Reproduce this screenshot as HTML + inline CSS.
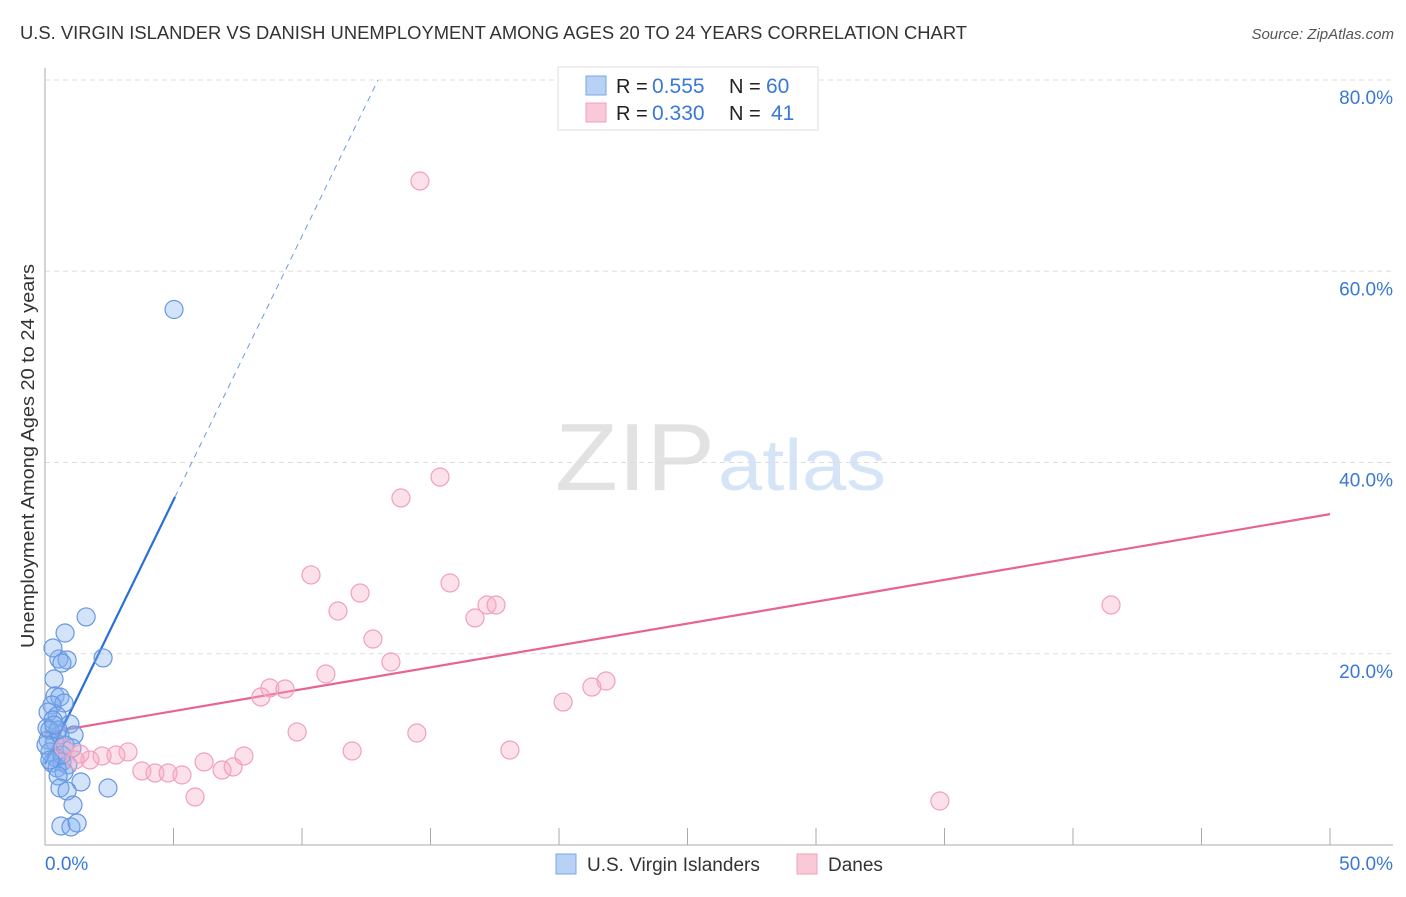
<!DOCTYPE html>
<html><head><meta charset="utf-8"><style>
body{margin:0;background:#fff;font-family:"Liberation Sans",sans-serif;}
svg text{font-family:"Liberation Sans",sans-serif;}
</style></head><body>
<svg id="chart" width="1406" height="892" xmlns="http://www.w3.org/2000/svg">
<text x="20" y="39" font-size="18" fill="#333" textLength="947" lengthAdjust="spacingAndGlyphs">U.S. VIRGIN ISLANDER VS DANISH UNEMPLOYMENT AMONG AGES 20 TO 24 YEARS CORRELATION CHART</text>
<text x="1394" y="39" font-size="15" fill="#555" font-style="italic" text-anchor="end">Source: ZipAtlas.com</text>
<text x="555" y="490" font-size="96" fill="#e2e2e2" textLength="160" lengthAdjust="spacingAndGlyphs" font-family="Liberation Serif">ZIP</text>
<text x="718" y="490" font-size="72" fill="#d6e4f7" textLength="168" lengthAdjust="spacingAndGlyphs">atlas</text>
<g id="grid"></g><g id="axes"></g><g id="lines"></g><g id="pts"></g>
<text transform="translate(34,456) rotate(-90)" font-size="18" fill="#333" text-anchor="middle" textLength="384" lengthAdjust="spacingAndGlyphs">Unemployment Among Ages 20 to 24 years</text>
<g>
<rect x="558" y="67" width="260" height="63" fill="#fff" stroke="#ddd"/>
<rect x="586" y="76" width="20" height="19" fill="#b8d2f6" stroke="#7aa7e6"/>
<rect x="586" y="103" width="20" height="19" fill="#fac9d8" stroke="#f0a0bc"/>
<text x="616" y="93" font-size="20" fill="#222">R =</text>
<text x="652" y="93" font-size="21" fill="#3a78d6">0.555</text>
<text x="729" y="93" font-size="20" fill="#222">N =</text>
<text x="766" y="93" font-size="21" fill="#3a78d6">60</text>
<text x="616" y="120" font-size="20" fill="#222">R =</text>
<text x="652" y="120" font-size="21" fill="#3a78d6">0.330</text>
<text x="729" y="120" font-size="20" fill="#222">N =</text>
<text x="771" y="120" font-size="21" fill="#3a78d6">41</text>
</g>
<g>
<rect x="556" y="854" width="20" height="20" fill="#b8d2f6" stroke="#7aa7e6"/>
<text x="587" y="871" font-size="19" fill="#333">U.S. Virgin Islanders</text>
<rect x="797" y="854" width="20" height="20" fill="#fac9d8" stroke="#f0a0bc"/>
<text x="828" y="871" font-size="19" fill="#333">Danes</text>
</g>
</svg>
<script>
const blueX=[5.02,1.60,0.78,2.26,0.54,0.86,0.31,0.66,0.35,0.39,0.58,0.74,0.27,0.12,0.47,0.31,0.97,0.08,0.58,1.13,0.12,0.39,0.78,1.05,0.19,0.43,0.66,0.89,0.27,0.47,0.74,0.51,1.40,0.58,0.86,2.45,1.09,0.62,1.01,1.25,0.19,0.51,0.04,0.66,0.35,0.19];
const blueY=[56.0,23.85,22.17,19.56,19.45,19.35,20.6,19.03,17.36,15.58,15.48,14.85,14.64,13.9,13.5,13.07,12.65,12.24,11.5,11.5,10.98,10.77,10.46,10.14,9.73,9.1,8.68,8.37,8.58,8.05,7.63,7.22,6.59,5.96,5.65,5.96,4.18,1.99,1.88,2.3,12.03,12.03,10.46,9.41,12.55,8.89];
const pinkX=[14.59,15.37,13.85,10.35,15.76,12.26,17.2,17.55,11.4,16.73,12.76,13.46,10.93,21.83,8.75,9.34,21.28,8.4,20.16,9.81,14.47,11.95,18.09,41.48,34.82,3.23,2.76,2.22,1.75,0.74,1.36,3.77,4.28,4.79,5.33,6.19,6.89,7.32,7.74,5.84,1.17];
const pinkY=[69.44,38.48,36.29,28.24,27.4,26.35,25.1,25.1,24.47,23.74,21.54,19.14,17.88,17.15,16.42,16.31,16.52,15.48,14.95,11.82,11.71,9.83,9.93,25.1,4.6,9.73,9.41,9.31,8.89,10.14,9.52,7.74,7.53,7.53,7.32,8.68,7.84,8.16,9.31,5.02,8.89];
const yTicks=[20,40,60,80];
const yTickLabels=["20.0%","40.0%","60.0%","80.0%"];
const blueTrend=[8.47,5.52]; const blueSolidEnd=5.06;
const pinkTrend=[11.71,34.6];
const NS="http://www.w3.org/2000/svg";
const X=v=>45+v/50*1285, Y=v=>845-v/20*191.25;
function mk(t,a,p){const e=document.createElementNS(NS,t);for(const k in a)e.setAttribute(k,a[k]);document.getElementById(p).appendChild(e);return e;}
yTicks.forEach((t,i)=>{
 const g=mk('line',{x1:45,x2:1393,y1:Y(t),y2:Y(t),stroke:'#ddd','stroke-dasharray':'5,4'},'grid');
 
 
 const l=mk('text',{x:1393,y:Y(t)+24,'font-size':19,fill:'#3a78d6','text-anchor':'end'},'grid');l.textContent=yTickLabels[i];
 
 
});
const ax=mk('line',{x1:45,x2:45,y1:68,y2:845,stroke:'#aaa'},'axes');


const bx=mk('line',{x1:45,x2:1393,y1:845,y2:845,stroke:'#aaa'},'axes');


for(let v=5;v<=50;v+=5){const t=mk('line',{x1:X(v),x2:X(v),y1:828,y2:845,stroke:'#aaa'},'axes');
 
 }
const x0=mk('text',{x:45,y:870,'font-size':19,fill:'#3a78d6'},'axes');x0.textContent='0.0%';


const x1=mk('text',{x:1393,y:870,'font-size':19,fill:'#3a78d6','text-anchor':'end'},'axes');x1.textContent='50.0%';


blueX.forEach((v,i)=>{const c=mk('circle',{cx:X(v),cy:Y(blueY[i]),r:9,fill:'rgba(130,175,240,0.35)',stroke:'#6797e0','stroke-width':1.2},'pts');
 
 });
pinkX.forEach((v,i)=>{const c=mk('circle',{cx:X(v),cy:Y(pinkY[i]),r:9,fill:'rgba(248,170,195,0.35)',stroke:'#f0a0bc','stroke-width':1.2},'pts');
 
 });
const bf=x=>blueTrend[0]+blueTrend[1]*x, dashEnd=(80-blueTrend[0])/blueTrend[1];
const b1=mk('line',{x1:X(0),y1:Y(bf(0)),x2:X(blueSolidEnd),y2:Y(bf(blueSolidEnd)),stroke:'#2a6fd6','stroke-width':2.2},'lines');


const b2=mk('line',{x1:X(blueSolidEnd),y1:Y(bf(blueSolidEnd)),x2:X(dashEnd),y2:Y(80),stroke:'#6d9be0','stroke-width':1,'stroke-dasharray':'6,5'},'lines');


const p1=mk('line',{x1:X(0),y1:Y(pinkTrend[0]),x2:X(50),y2:Y(pinkTrend[1]),stroke:'#e8648e','stroke-width':2.2},'lines');


</script>
</body></html>
